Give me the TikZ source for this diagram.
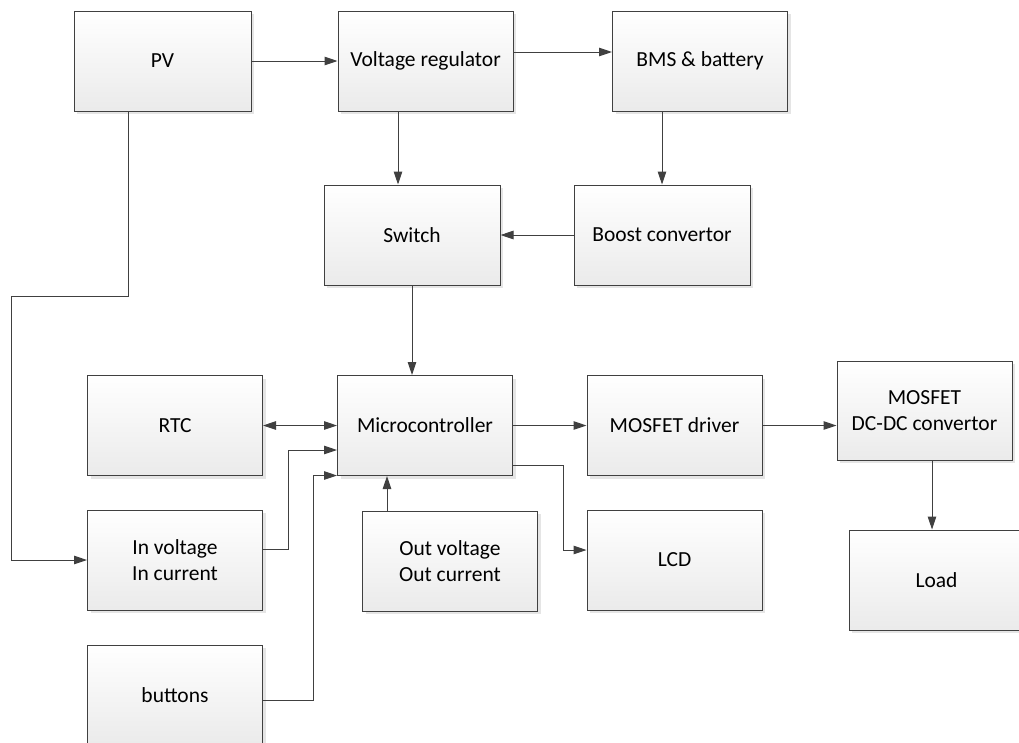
\documentclass[tikz,border=0pt]{standalone}
\usepackage{fontspec}
\setmainfont{Carlito}
\usetikzlibrary{arrows.meta,shadows,calc}

\definecolor{edge}{HTML}{404040}

\tikzset{
  blk/.style={draw=edge, line width=1pt, rectangle,
    top color=white, bottom color=black!8,
    drop shadow={shadow xshift=3pt, shadow yshift=-3pt, fill=black!10, opacity=1},
    minimum width=175pt, minimum height=100pt, inner sep=0pt,
    align=center, font=\fontsize{21.5}{26}\selectfont},
  arr/.style={draw=edge, line width=1pt,
    -{Triangle[length=13pt,width=8.5pt]}},
  biarr/.style={draw=edge, line width=1pt,
    {Triangle[length=13pt,width=8.5pt]}-{Triangle[length=13pt,width=8.5pt]}}
}

\begin{document}
\begin{tikzpicture}[x=1pt,y=-1pt]
\useasboundingbox (0,0) rectangle (1019,742);
\clip (0,0) rectangle (1019,742);
\fill[white] (0,0) rectangle (1019,742);

% blocks
\node[blk, minimum width=177pt] (PV)  at (162.5,61)  {PV};
\node[blk] (VR)  at (425.5,61)  {Voltage regulator};
\node[blk] (BMS) at (700,61)    {BMS \& battery};
\node[blk, minimum width=176pt] (SW)  at (412,235)   {Switch};
\node[blk, minimum width=176pt] (BC)  at (662,235)   {Boost convertor};
\node[blk] (MC)  at (425,425.5) {Microcontroller};
\node[blk] (RTC) at (175,425.5) {RTC};
\node[blk] (IN)  at (175,560)   {In voltage\\In current};
\node[blk] (BT)  at (175,695)   {buttons};
\node[blk] (OUT) at (450,561)   {Out voltage\\Out current};
\node[blk] (MD)  at (674.5,425.5) {MOSFET driver};
\node[blk] (LCD) at (674.5,560) {LCD};
\node[blk, minimum height=99pt] (DC)  at (924.5,410.5) {MOSFET\\DC-DC convertor};
\node[blk] (LD)  at (936.5,580) {Load};

% power path
\draw[arr] (PV.east) -- (VR.west);
\draw[arr] ([yshift=9pt]VR.east) -- ([yshift=9pt]VR.east -| BMS.west);
\draw[arr] ([xshift=-27.5pt]VR.south) -- ([xshift=-27.5pt]VR.south |- SW.north);
\draw[arr] (BMS.south -| BC.north) -- (BC.north);
\draw[arr] (BC.west) -- (SW.east);
\draw[arr] (SW.south) -- (SW.south |- MC.north);

% microcontroller inputs
\draw[biarr] (RTC.east) -- (MC.west);
\draw[arr] ([xshift=-34.5pt]PV.south) -- ++(0,185) -| ($(IN.west)+(-75.5,0)$) -- (IN.west);
\draw[arr] ([yshift=11pt]IN.east) -- ++(25,0) |- ([yshift=-24.5pt]MC.west);
\draw[arr] ([yshift=-5pt]BT.east) -- ++(50.5,0) |- ([yshift=0.5pt]MC.south west);
\draw[arr] ([xshift=-63pt]OUT.north) -- ([xshift=-63pt]OUT.north |- MC.south);

% outputs
\draw[arr] (MC.east) -- (MD.west);
\draw[arr] ([yshift=-40pt]MC.east) -- ++(50,0) |- ([yshift=10pt]LCD.west);
\draw[arr] (MD.east) -- (MD.east -| DC.west);
\draw[arr] ([xshift=7.5pt]DC.south) -- ([xshift=7.5pt]DC.south |- LD.north);
\end{tikzpicture}
\end{document}
